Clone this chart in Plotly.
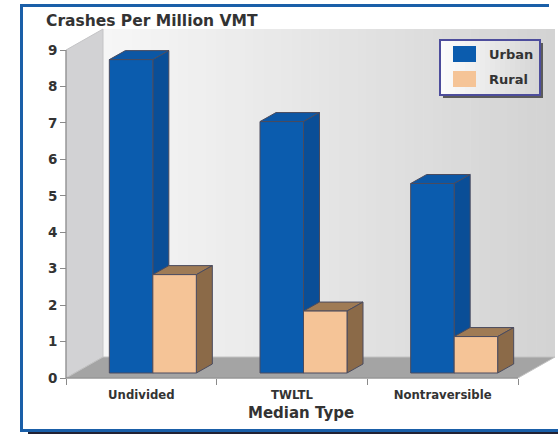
import plotly.graph_objects as go

# ---------------- data ----------------
categories = ["Undivided", "TWLTL", "Nontraversible"]
series = ["Urban", "Rural"]
urban = [8.6, 6.9, 5.2]
rural = [2.7, 1.7, 1.0]
y_tick_values = [0, 1, 2, 3, 4, 5, 6, 7, 8, 9]
x_title = "Median Type"
y_title = "Crashes Per Million VMT"

# ---------------- geometry (pixels) ----------------
FIG_W, FIG_H = 558, 434
PL, PR, PT, PB = 56, 558, 24, 386          # plot area
AX_X, AX_Y = 66, 378                        # front axis corner
CAT_PX, UNIT_PX = 150.67, 36.44             # px per category / per unit


def ux(px):
    return px / CAT_PX


def uy(px):
    return px / UNIT_PX


def paper(px, py):
    return (px - PL) / (PR - PL), (PB - py) / (PB - PT)


x_range = [-0.5 - ux(AX_X - PL), -0.5 + ux(PR - AX_X)]
y_range = [-uy(PB - AX_Y), uy(AX_Y - PT)]

n = len(categories)
xi = list(range(n))
x_lo, x_hi = -0.5, n - 0.5
y_top = max(y_tick_values)

WALL_DX, WALL_DY = ux(37), uy(21)
BAR_DX, BAR_DY = ux(16), uy(9)
BAR_BASE = uy(5)
BAR_SHIFT = ux(11.5)
BAR_W = ux(43.5)

colors = {
    "Urban": dict(front="#0b5cae", side="#0a4e97", top="#0c57a5"),
    "Rural": dict(front="#f5c497", side="#8b6a48", top="#9f7b55"),
}
EDGE = "#4a4b5e"
FONT = "DejaVu Sans"
TXT = "#333333"

values = {"Urban": urban, "Rural": rural}
offsets = {"Urban": BAR_SHIFT - BAR_W, "Rural": BAR_SHIFT}

fig = go.Figure()
for s in series:
    fig.add_trace(go.Bar(
        x=xi, y=values[s], base=BAR_BASE, offset=offsets[s], width=BAR_W,
        name=s, showlegend=False,
        marker=dict(color=colors[s]["front"], line=dict(color=EDGE, width=1)),
    ))

shapes = []


def poly(pts, fill, line_color=None, lw=0, layer="below", ref="data"):
    path = "M " + " L ".join(f"{x:.5f},{y:.5f}" for x, y in pts) + " Z"
    d = dict(type="path", path=path, fillcolor=fill, layer=layer,
             line=dict(color=line_color or fill, width=lw))
    if ref == "data":
        d.update(xref="x", yref="y")
    else:
        d.update(xref="paper", yref="paper")
    shapes.append(d)


# back wall with horizontal gradient
N = 48
bx0, bx1 = x_lo + WALL_DX, x_hi + WALL_DX
for k in range(N):
    t = k / (N - 1)
    c = int(round(246 - t * (246 - 211)))
    xa = bx0 + (bx1 - bx0) * k / N
    xb = bx0 + (bx1 - bx0) * (k + 1) / N + (0.004 if k < N - 1 else 0)
    shapes.append(dict(type="rect", xref="x", yref="y", x0=xa, x1=xb,
                       y0=WALL_DY, y1=y_top + WALL_DY, layer="below",
                       fillcolor=f"rgb({c},{c},{c})", line=dict(width=0)))
# left wall
poly([(x_lo, 0), (x_lo, y_top), (x_lo + WALL_DX, y_top + WALL_DY), (x_lo + WALL_DX, WALL_DY)],
     "#d2d2d4", "#c4c4c6", 1)
# floor
poly([(x_lo, 0), (x_hi, 0), (x_hi + WALL_DX, WALL_DY), (x_lo + WALL_DX, WALL_DY)],
     "#a4a4a4", "#c2c2c2", 1)
# axis lines
shapes.append(dict(type="line", xref="x", yref="y", x0=x_lo, x1=x_lo, y0=0, y1=y_top,
                   line=dict(color="#808080", width=1), layer="below"))
shapes.append(dict(type="line", xref="x", yref="y", x0=x_lo, x1=x_hi, y0=0, y1=0,
                   line=dict(color="#808080", width=1), layer="below"))

# 3D faces of bars
for s in series:
    for i in xi:
        xl = i + offsets[s]
        xr = xl + BAR_W
        b = BAR_BASE
        v = values[s][i]
        poly([(xl, b + v), (xr, b + v), (xr + BAR_DX, b + v + BAR_DY), (xl + BAR_DX, b + v + BAR_DY)],
             colors[s]["top"], EDGE, 1)
        poly([(xr, b), (xr, b + v), (xr + BAR_DX, b + v + BAR_DY), (xr + BAR_DX, b + BAR_DY)],
             colors[s]["side"], EDGE, 1)


def prect(x0, y0, x1, y1, fill, line_color=None, lw=0, layer="above"):
    a, b_ = paper(x0, y1)
    c, d = paper(x1, y0)
    shapes.append(dict(type="rect", xref="paper", yref="paper", x0=a, y0=b_, x1=c, y1=d,
                       fillcolor=fill, layer=layer,
                       line=dict(color=line_color or fill, width=lw)))


def pline(x0, y0, x1, y1, color, lw):
    a, b_ = paper(x0, y0)
    c, d = paper(x1, y1)
    shapes.append(dict(type="line", xref="paper", yref="paper", x0=a, y0=b_, x1=c, y1=d,
                       line=dict(color=color, width=lw), layer="above"))


# legend box (shadow, gradient fill, border, swatches)
LX0, LY0, LX1, LY1 = 440, 40, 540, 95
prect(LX0 + 3, LY0 + 3, LX1 + 3, LY1 + 3, "#5a5a5a")
NL = 20
for k in range(NL):
    t = k / (NL - 1)
    c = int(round(252 - t * (252 - 214)))
    xa = LX0 + (LX1 - LX0) * k / NL
    xb = LX0 + (LX1 - LX0) * (k + 1) / NL + 0.5
    prect(xa, LY0, min(xb, LX1), LY1, f"rgb({c},{c},{c})")
shapes.append(dict(type="rect", xref="paper", yref="paper",
                   x0=paper(LX0, 0)[0], x1=paper(LX1, 0)[0],
                   y0=paper(0, LY1)[1], y1=paper(0, LY0)[1],
                   fillcolor="rgba(0,0,0,0)", layer="above",
                   line=dict(color="#4d4d9c", width=2)))
prect(453, 46, 476, 62, colors["Urban"]["front"])
prect(453, 71, 476, 87, colors["Rural"]["front"])

# frame
pline(21.5, 5.5, 21.5, 430.5, "#1a5fa8", 3)
pline(20, 5.5, 549, 5.5, "#1a5fa8", 3)
pline(20, 430.5, 558, 430.5, "#1a5fa8", 3)
pline(28, 433, 558, 433, "#222233", 2)

annotations = []


def ptext(text, px, py, size, xanchor="left"):
    a, b_ = paper(px, py)
    annotations.append(dict(text=text, x=a, y=b_, xref="paper", yref="paper",
                            xanchor=xanchor, yanchor="middle", showarrow=False,
                            font=dict(family=FONT, size=size, color=TXT, weight="bold")))


ptext(y_title, 44, 21, 15.5)
ptext(x_title, 301, 413, 15, "center")
ptext(series[0], 487, 54, 13)
ptext(series[1], 487, 79, 13)

fig.update_layout(
    width=FIG_W, height=FIG_H,
    margin=dict(l=PL, r=FIG_W - PR, t=PT, b=FIG_H - PB, pad=0),
    paper_bgcolor="white", plot_bgcolor="white",
    barmode="overlay", showlegend=False,
    shapes=shapes, annotations=annotations,
    xaxis=dict(range=x_range, anchor="free", position=paper(0, AX_Y)[1],
               tickmode="array", tickvals=xi, ticktext=categories, ticks="",
               showline=False, showgrid=False, zeroline=False,
               tickfont=dict(family=FONT, size=11.7, color=TXT, weight="bold"),
               ticklabelstandoff=8,
               minor=dict(tickmode="array", tickvals=[k - 0.5 for k in range(n + 1)],
                          ticks="outside", ticklen=6, tickcolor="#8a8a8a", showgrid=False)),
    yaxis=dict(range=y_range, anchor="free", position=paper(AX_X, 0)[0],
               tickmode="array", tickvals=y_tick_values, ticks="outside", ticklen=6,
               tickcolor="#8a8a8a", showline=False, showgrid=False, zeroline=False,
               tickfont=dict(family=FONT, size=13.5, color=TXT, weight="bold")),
)

fig.write_html("out.html", config={"displayModeBar": False, "staticPlot": True},
               post_script="document.body.style.margin='0px';document.body.style.overflow='hidden';")
